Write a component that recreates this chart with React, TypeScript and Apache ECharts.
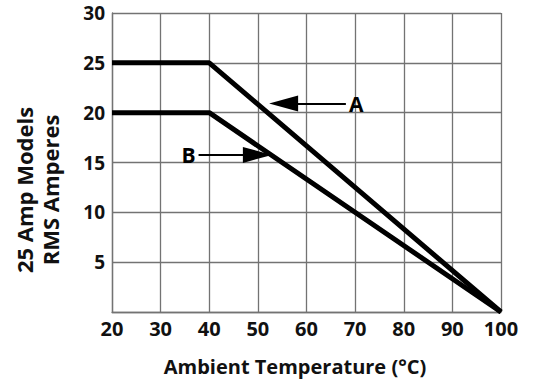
import React, { useEffect, useRef } from "react";
import * as echarts from "echarts";

const xTicks = [20, 30, 40, 50, 60, 70, 80, 90, 100];
const seriesA: [number, number][] = [[20, 25], [40, 25], [100, 0]];
const seriesB: [number, number][] = [[20, 20], [40, 20], [100, 0]];
const arrowA = { label: "A", tail: [68.1, 20.91], tip: [55.3, 20.91] };
const arrowB = { label: "B", tail: [37.8, 15.76], tip: [49.9, 15.76] };

const FONT = "'Open Sans', sans-serif";

export default function App() {
  const ref = useRef<HTMLDivElement>(null);
  useEffect(() => {
    if (!ref.current) return;
    const chart = echarts.init(ref.current, undefined, { renderer: "svg" });
    const gridColor = "#737373";
    const mk = (a: typeof arrowA) => ({
      silent: true,
      symbol: ["none", "triangle"],
      symbolSize: [16, 29],
      lineStyle: { color: "#000", width: 2, type: "solid" },
      label: {
        show: true,
        position: "start",
        formatter: a.label,
        color: "#000",
        fontFamily: FONT,
        fontWeight: "bold",
        fontSize: 21,
        distance: 3,
      },
      data: [[{ coord: a.tail }, { coord: a.tip }]],
    });
    chart.setOption({
      animation: false,
      backgroundColor: "#fff",
      grid: { left: 112, right: 37, top: 13, bottom: 69 },
      xAxis: {
        type: "value",
        min: 20,
        max: 100,
        interval: 10,
        axisLine: { show: true, lineStyle: { color: gridColor, width: 1.3 } },
        axisTick: { show: false },
        splitLine: { show: true, lineStyle: { color: gridColor, width: 1.3 } },
        axisLabel: {
          color: "#111",
          fontFamily: FONT,
          fontWeight: "bold",
          fontSize: 20,
          margin: 6,
          formatter: (v: number) => (xTicks.includes(v) ? String(v) : ""),
        },
      },
      yAxis: {
        type: "value",
        min: 0,
        max: 30,
        interval: 5,
        axisLine: { show: true, lineStyle: { color: gridColor, width: 1.3 } },
        axisTick: { show: false },
        splitLine: { show: true, lineStyle: { color: gridColor, width: 1.3 } },
        axisLabel: {
          color: "#111",
          fontFamily: FONT,
          fontWeight: "bold",
          fontSize: 19,
          margin: 7,
          formatter: (v: number) => (v === 0 ? "" : String(v)),
        },
      },
      graphic: [
        {
          type: "text",
          x: 24,
          y: 190,
          rotation: Math.PI / 2,
          style: {
            text: "25 Amp Models",
            fill: "#111",
            font: `bold 22px ${FONT}`,
            textAlign: "center",
            textVerticalAlign: "middle",
          },
        },
        {
          type: "text",
          x: 50,
          y: 190,
          rotation: Math.PI / 2,
          style: {
            text: "RMS Amperes",
            fill: "#111",
            font: `bold 22px ${FONT}`,
            textAlign: "center",
            textVerticalAlign: "middle",
          },
        },
        {
          type: "text",
          x: 295,
          y: 366,
          style: {
            text: "Ambient Temperature (°C)",
            fill: "#111",
            font: `bold 20px ${FONT}`,
            textAlign: "center",
            textVerticalAlign: "middle",
          },
        },
      ],
      series: [
        {
          type: "line",
          data: seriesA,
          symbol: "none",
          lineStyle: { color: "#000", width: 5 },
          markLine: mk(arrowA),
        },
        {
          type: "line",
          data: seriesB,
          symbol: "none",
          lineStyle: { color: "#000", width: 5 },
          markLine: mk(arrowB),
        },
      ],
    });
    return () => chart.dispose();
  }, []);
  return (
    <div
      ref={ref}
      style={{ position: "fixed", left: 0, top: 0, width: 538, height: 381 }}
    />
  );
}
